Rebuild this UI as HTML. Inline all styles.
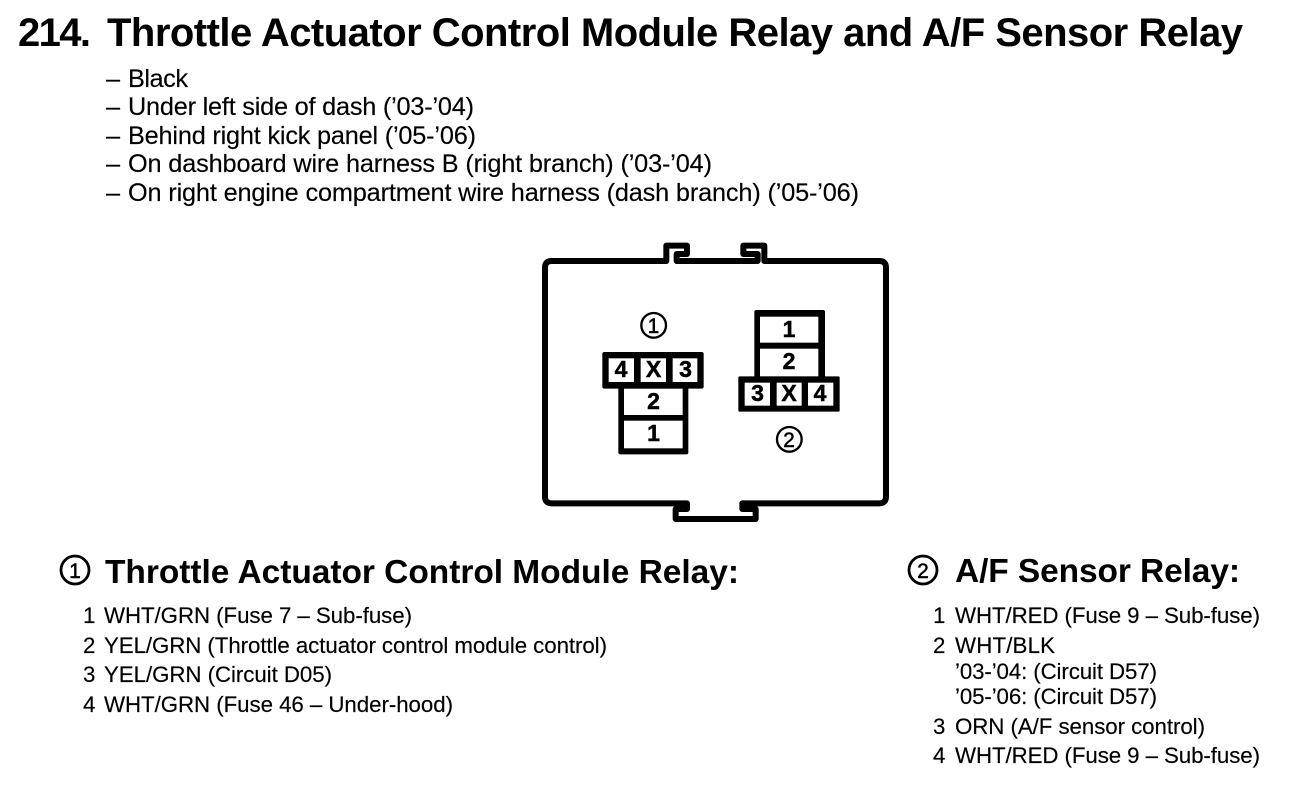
<!DOCTYPE html>
<html><head><meta charset="utf-8"><style>
html,body{margin:0;padding:0;background:#fff}
svg{display:block}
text{font-family:"Liberation Sans",sans-serif;fill:#000;white-space:pre}
.t{font-weight:bold;font-size:40px}
.h{font-weight:bold;font-size:33.5px}
.l{font-size:25.3px;stroke:#000;stroke-width:.15px}
.s{font-size:22.3px;stroke:#000;stroke-width:.15px}
.c{font-weight:bold;font-size:23px;text-anchor:middle;stroke:#000;stroke-width:.5px}
.g{font-size:21px;text-anchor:middle;stroke:#000;stroke-width:.5px}
</style></head><body>
<svg width="1312" height="788" viewBox="0 0 1312 788" xmlns="http://www.w3.org/2000/svg">
<rect width="1312" height="788" fill="#fff"/>
<text class="t" x="18" y="46" textLength="73">214.</text>
<text class="t" x="107" y="46" textLength="1136">Throttle Actuator Control Module Relay and A/F Sensor Relay</text>

<text class="l" x="106" y="87">–</text><text class="l" x="128" y="87" textLength="60">Black</text>
<text class="l" x="106" y="115">–</text><text class="l" x="128" y="115" textLength="346">Under left side of dash (’03-’04)</text>
<text class="l" x="106" y="144">–</text><text class="l" x="128" y="144" textLength="348">Behind right kick panel (’05-’06)</text>
<text class="l" x="106" y="172">–</text><text class="l" x="128" y="172" textLength="584">On dashboard wire harness B (right branch) (’03-’04)</text>
<text class="l" x="106" y="201">–</text><text class="l" x="128" y="201" textLength="731">On right engine compartment wire harness (dash branch) (’05-’06)</text>

<g transform="translate(530 235) scale(.33333)">
<path d="M409 78H65Q45 78 45 98V785Q45 805 65 805H471V822H437V852H677V822H637V805H1048Q1068 805 1068 785V98Q1068 78 1048 78H703V32H640V57H683V78H440V57H471V32H409Z" fill="none" stroke="#000" stroke-width="18" stroke-linejoin="round"/>
<rect x="217" y="351" width="304" height="110" rx="6" fill="#000"/>
<rect x="265" y="450" width="210" height="208" rx="6" fill="#000"/>
<rect x="236" y="370" width="76" height="71" fill="#fff"/>
<rect x="332" y="370" width="76" height="71" fill="#fff"/>
<rect x="428" y="370" width="74" height="71" fill="#fff"/>
<rect x="282" y="461" width="176" height="79" fill="#fff"/>
<rect x="282" y="557" width="176" height="83" fill="#fff"/>
<rect x="673" y="225" width="212" height="210" rx="6" fill="#000"/>
<rect x="625" y="424" width="304" height="106" rx="4" fill="#000"/>
<rect x="690" y="245" width="175" height="78" fill="#fff"/>
<rect x="690" y="341" width="175" height="83" fill="#fff"/>
<rect x="644" y="443" width="76" height="69" fill="#fff"/>
<rect x="740" y="443" width="75" height="69" fill="#fff"/>
<rect x="834" y="443" width="76" height="69" fill="#fff"/>
<circle cx="371" cy="271" r="37" fill="none" stroke="#000" stroke-width="7"/>
<circle cx="778" cy="613" r="37" fill="none" stroke="#000" stroke-width="7"/>
</g>
<text class="c" x="621" y="377">4</text><text class="c" x="653.500" y="377">X</text><text class="c" x="685.500" y="377">3</text>
<text class="c" x="653.500" y="409">2</text><text class="c" x="653.500" y="441">1</text>
<text class="c" x="789" y="337">1</text><text class="c" x="789" y="369">2</text>
<text class="c" x="757.500" y="401">3</text><text class="c" x="789" y="401">X</text><text class="c" x="820" y="401">4</text>
<text class="g" x="653.500" y="333">1</text><text class="g" x="789" y="447">2</text>

<circle cx="75" cy="570" r="14" fill="none" stroke="#000" stroke-width="2.800"/>
<text class="g" x="75" y="578">1</text>
<text class="h" x="105" y="583" textLength="634">Throttle Actuator Control Module Relay:</text>
<text class="s" x="83" y="623">1</text><text class="s" x="104" y="623" textLength="308">WHT/GRN (Fuse 7 – Sub-fuse)</text>
<text class="s" x="83" y="653">2</text><text class="s" x="104" y="653" textLength="503">YEL/GRN (Throttle actuator control module control)</text>
<text class="s" x="83" y="682">3</text><text class="s" x="104" y="682" textLength="228">YEL/GRN (Circuit D05)</text>
<text class="s" x="83" y="712">4</text><text class="s" x="104" y="712" textLength="349">WHT/GRN (Fuse 46 – Under-hood)</text>

<circle cx="923" cy="570" r="14" fill="none" stroke="#000" stroke-width="2.800"/>
<text class="g" x="923" y="578">2</text>
<text class="h" x="955" y="582" textLength="285">A/F Sensor Relay:</text>
<text class="s" x="933" y="623">1</text><text class="s" x="955" y="623" textLength="305">WHT/RED (Fuse 9 – Sub-fuse)</text>
<text class="s" x="933" y="653">2</text><text class="s" x="955" y="653" textLength="100">WHT/BLK</text>
<text class="s" x="955" y="679" textLength="202">’03-’04: (Circuit D57)</text>
<text class="s" x="955" y="704" textLength="202">’05-’06: (Circuit D57)</text>
<text class="s" x="933" y="734">3</text><text class="s" x="955" y="734" textLength="250">ORN (A/F sensor control)</text>
<text class="s" x="933" y="763">4</text><text class="s" x="955" y="763" textLength="305">WHT/RED (Fuse 9 – Sub-fuse)</text>
</svg>
</body></html>
